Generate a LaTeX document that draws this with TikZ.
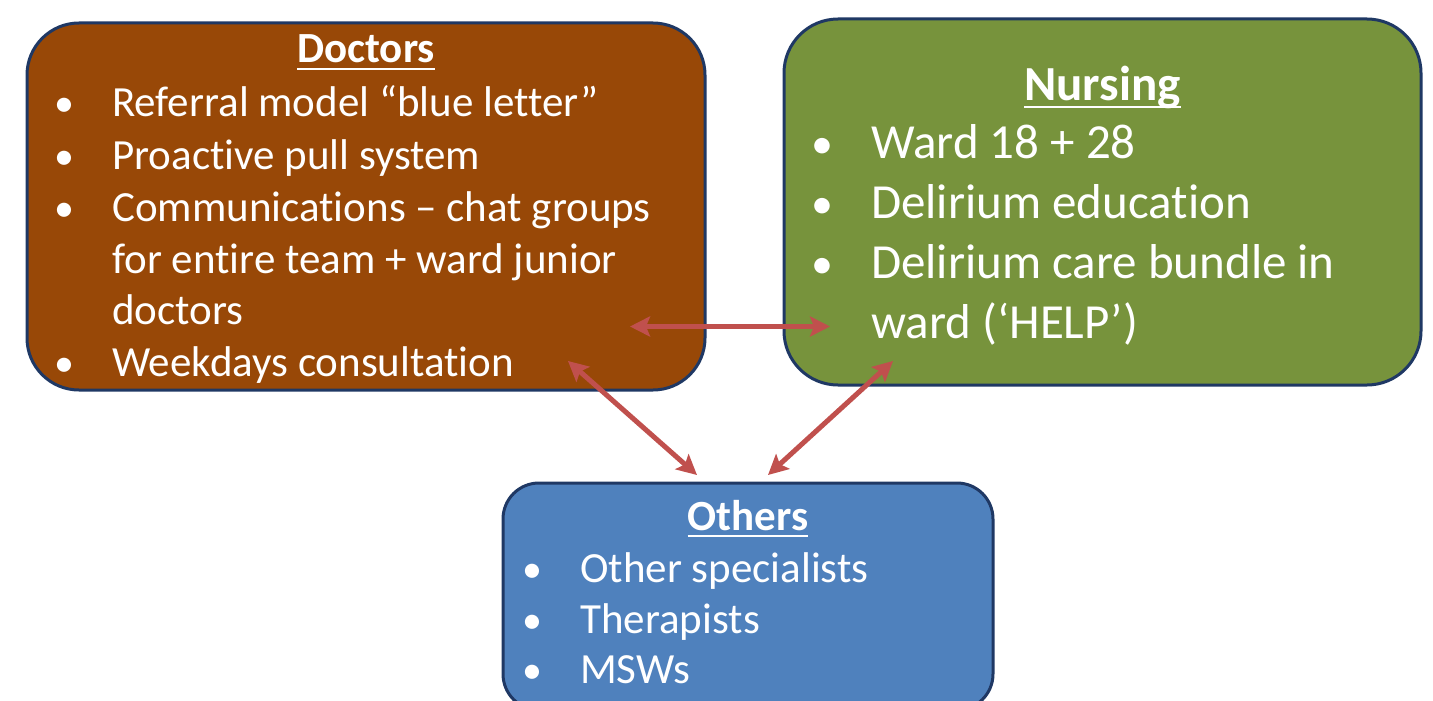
\documentclass[tikz,border=0pt]{standalone}
\usepackage{fontspec}
\setmainfont[RawFeature=-liga]{Carlito}
\usetikzlibrary{arrows.meta}
\definecolor{docbrown}{HTML}{984807}
\definecolor{nursegreen}{HTML}{77933C}
\definecolor{otherblue}{HTML}{4F81BD}
\definecolor{edgenavy}{HTML}{1F3864}
\definecolor{arrowred}{HTML}{C0504D}
\newcommand{\ulhead}[1]{{\setbox0\hbox{#1}\rlap{\rule[-0.17em]{\wd0}{0.055em}}\box0}}
\tikzset{
  box/.style={draw=edgenavy, line width=3pt, inner sep=0pt, outer sep=0pt},
  body/.style={text=white, inner sep=0pt, anchor=base west, font=\fontsize{43}{52}\selectfont},
  bigbody/.style={text=white, inner sep=0pt, anchor=base west, font=\fontsize{49}{60}\selectfont},
  bul/.style={text=white, inner sep=0pt, anchor=base, font=\fontsize{40}{52}\selectfont},
  bigbul/.style={text=white, inner sep=0pt, anchor=base, font=\fontsize{44}{60}\selectfont},
  head/.style={text=white, inner sep=0pt, anchor=base, font=\fontsize{43}{52}\selectfont\bfseries},
  bighead/.style={text=white, inner sep=0pt, anchor=base, font=\fontsize{49}{60}\selectfont\bfseries},
  link/.style={draw=arrowred, line width=5pt, {Stealth[length=20pt,width=20pt,inset=4pt]}-{Stealth[length=20pt,width=20pt,inset=4pt]}}
}
\begin{document}
\begin{tikzpicture}[x=1pt,y=-1pt]
\useasboundingbox (0,0) rectangle (1433,701);
% boxes
\node[box, fill=docbrown, rounded corners=52pt, minimum width=678, minimum height=367] (doc) at (366,206.5) {};
\node[box, fill=nursegreen, rounded corners=54pt, minimum width=637, minimum height=366] (nurse) at (1102.5,202) {};
\node[box, fill=otherblue, rounded corners=36pt, minimum width=490, minimum height=227] (oth) at (748,596.5) {};
% Doctors text
\node[head] (dh) at (366,63) {\ulhead{Doctors}};
\node[bul] (db1) at (64,117) {•};
\node[body] (dt1) at (112,117) {Referral model “blue letter”};
\node[bul] (db2) at (64,169) {•};
\node[body] (dt2) at (112,169) {Proactive pull system};
\node[bul] (db3) at (64,221) {•};
\node[body] (dt3) at (112,221) {Communications – chat groups};
\node[body] (dt4) at (112,273) {for entire team + ward junior};
\node[body] (dt5) at (112,324) {doctors};
\node[bul] (db6) at (64,376) {•};
\node[body] (dt6) at (112,376) {Weekdays consultation};
% Nursing text
\node[bighead] (nh) at (1102.5,100) {\ulhead{Nursing}};
\node[bigbul] (nb1) at (822,158) {•};
\node[bigbody] (nt1) at (871,158) {Ward 18 + 28};
\node[bigbul] (nb2) at (822,218) {•};
\node[bigbody] (nt2) at (871,218) {Delirium education};
\node[bigbul] (nb3) at (822,278) {•};
\node[bigbody] (nt3) at (871,278) {Delirium care bundle in};
\node[bigbody] (nt4) at (871,338) {ward (‘HELP’)};
% Others text
\node[head] (oh) at (748,530) {\ulhead{Others}};
\node[bul] (ob1) at (532,582) {•};
\node[body] (ot1) at (580,582) {Other specialists};
\node[bul] (ob2) at (532,633) {•};
\node[body] (ot2) at (580,633) {Therapists};
\node[bul] (ob3) at (532,683) {•};
\node[body] (ot3) at (580,683) {MSWs};
% arrow end points
\coordinate (dA) at (630,326.5);
\coordinate (nA) at (830,326.5);
\coordinate (dB) at (568,361);
\coordinate (oB) at (697,475);
\coordinate (nC) at (893,361);
\coordinate (oC) at (768,475);
\draw[link] (dA) -- (nA);
\draw[link] (dB) -- (oB);
\draw[link] (nC) -- (oC);
\end{tikzpicture}
\end{document}
